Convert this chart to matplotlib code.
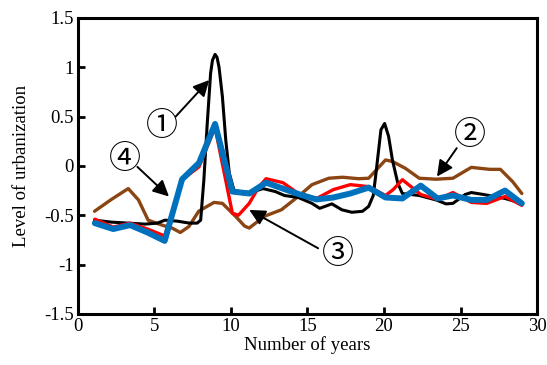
# Level of urbanization over years, four series with circled labels
import numpy as np
import matplotlib.pyplot as plt

plt.rcParams['font.family'] = ['Liberation Serif', 'DejaVu Sans']

# Series 4 (blue) and series 3 (red) - sampled at the same yearly steps
years_blue = [1.12, 2.32, 3.42, 4.56, 5.68, 6.82, 7.92, 8.97, 10.1, 11.2, 12.3, 13.4, 14.5,
              15.6, 16.7, 17.8, 19.0, 20.1, 21.2, 22.4, 23.5, 24.5, 25.7, 26.7, 27.9, 29.0]
level_blue = [-0.58, -0.64, -0.60, -0.675, -0.76, -0.135, 0.03, 0.425, -0.26, -0.28, -0.17, -0.23, -0.29,
              -0.34, -0.32, -0.28, -0.22, -0.32, -0.33, -0.20, -0.33, -0.30, -0.345, -0.345, -0.25, -0.38]

years_red = [1.12, 2.32, 3.42, 4.56, 5.68, 6.82, 7.92, 8.97, 10.1, 10.5, 11.2, 11.8, 12.3, 13.4, 14.5,
             15.6, 16.7, 17.8, 19.0, 20.1, 20.6, 21.2, 22.4, 23.5, 24.5, 25.7, 26.7, 27.9, 29.0]
level_red = [-0.54, -0.62, -0.58, -0.64, -0.71, -0.14, -0.01, 0.39, -0.48, -0.50, -0.38, -0.22, -0.13, -0.17, -0.29,
             -0.33, -0.24, -0.19, -0.21, -0.30, -0.24, -0.14, -0.29, -0.34, -0.27, -0.37, -0.38, -0.31, -0.40]

# Series 1 (black)
years_black = [1.1, 2.2, 3.3, 4.4, 5.2, 5.7, 6.5, 7.3, 7.8, 8.03, 8.24, 8.46, 8.68, 8.8, 8.97, 9.1, 9.23,
               9.45, 9.67, 9.9, 10.2, 10.55, 11.3, 12.1, 12.9, 13.5, 14.4, 15.3, 15.8, 16.6, 17.25,
               17.9, 18.6, 19.0, 19.3, 19.45, 19.8, 20.04, 20.3, 20.55, 20.9, 21.2, 22.3, 23.4, 24.05,
               24.5, 25.3, 25.7, 26.5, 27.2, 27.9, 29.0]
level_black = [-0.55, -0.57, -0.58, -0.59, -0.58, -0.55, -0.56, -0.58, -0.58, -0.55, -0.14, 0.43, 0.94, 1.07, 1.13, 1.10, 1.0,
               0.70, 0.26, -0.075, -0.245, -0.26, -0.27, -0.23, -0.26, -0.30, -0.32, -0.38, -0.43, -0.385, -0.445,
               -0.47, -0.46, -0.41, -0.30, -0.11, 0.365, 0.43, 0.30, 0.06, -0.175, -0.28, -0.30, -0.345, -0.385,
               -0.38, -0.29, -0.27, -0.29, -0.31, -0.33, -0.38]

# Series 2 (brown)
years_brown = [1.1, 2.2, 3.3, 3.97, 4.6, 5.5, 6.16, 6.7, 7.26, 7.9, 8.9, 9.45, 10.3, 10.9, 11.2, 12.2,
               13.3, 14.4, 15.3, 16.4, 17.3, 18.35, 19.0, 19.7, 20.1, 20.55, 21.4, 22.3, 23.4, 24.5,
               25.7, 26.9, 27.6, 28.4, 29.0]
level_brown = [-0.46, -0.34, -0.23, -0.345, -0.55, -0.60, -0.63, -0.675, -0.615, -0.46, -0.37, -0.38, -0.51, -0.61, -0.63, -0.51,
               -0.445, -0.31, -0.19, -0.125, -0.115, -0.13, -0.125, -0.007, 0.06, 0.045, -0.025, -0.125, -0.135, -0.125,
               -0.015, -0.035, -0.035, -0.16, -0.28]

fig = plt.figure(figsize=(5.47, 3.65), dpi=100)
ax = fig.add_axes([0.142, 0.140, 0.840, 0.811])

kw = dict(solid_joinstyle='round', solid_capstyle='round')
ax.plot(years_brown, level_brown, color='#8B4513', lw=2.4, zorder=2, **kw)
ax.plot(years_black, level_black, color='black', lw=2.2, zorder=3, **kw)
ax.plot(years_red, level_red, color='#ff0000', lw=2.4, zorder=4, **kw)
ax.plot(years_blue, level_blue, color='#0072BD', lw=4.3, zorder=5, **kw)

ax.set_xlim(0, 30)
ax.set_ylim(-1.5, 1.5)
ax.set_xticks([0, 5, 10, 15, 20, 25, 30])
ax.set_yticks([-1.5, -1, -0.5, 0, 0.5, 1, 1.5])
ax.set_yticklabels(['-1.5', '-1', '-0.5', '0', '0.5', '1', '1.5'])
ax.tick_params(direction='in', length=5, width=2.0, labelsize=13.5, top=False, right=False, pad=3)
for s in ax.spines.values():
    s.set_linewidth(2.2)
ax.set_xlabel('Number of years', fontsize=13.5, labelpad=1)
ax.set_ylabel('Level of urbanization', fontsize=13.5, labelpad=10)

# circled labels and arrows
arr = dict(arrowstyle='-|>', mutation_scale=24, lw=1.4, color='black', shrinkA=0, shrinkB=0)
ax.annotate('', xy=(8.59, 0.87), xytext=(6.4, 0.50), arrowprops=arr, zorder=6)
ax.annotate('', xy=(5.96, -0.31), xytext=(3.9, -0.01), arrowprops=arr, zorder=6)
ax.annotate('', xy=(23.46, -0.108), xytext=(24.75, 0.18), arrowprops=arr, zorder=6)
ax.annotate('', xy=(11.2, -0.446), xytext=(15.7, -0.835), arrowprops=arr, zorder=6)

cfont = dict(fontsize=23, ha='center', va='center', family=['Noto Sans CJK JP', 'DejaVu Sans'])
ax.text(5.53, 0.405, '①', **cfont)
ax.text(3.11, 0.07, '④', **cfont)
ax.text(25.6, 0.314, '②', **cfont)
ax.text(17.0, -0.89, '③', **cfont)

plt.savefig('out.png', dpi=100)
